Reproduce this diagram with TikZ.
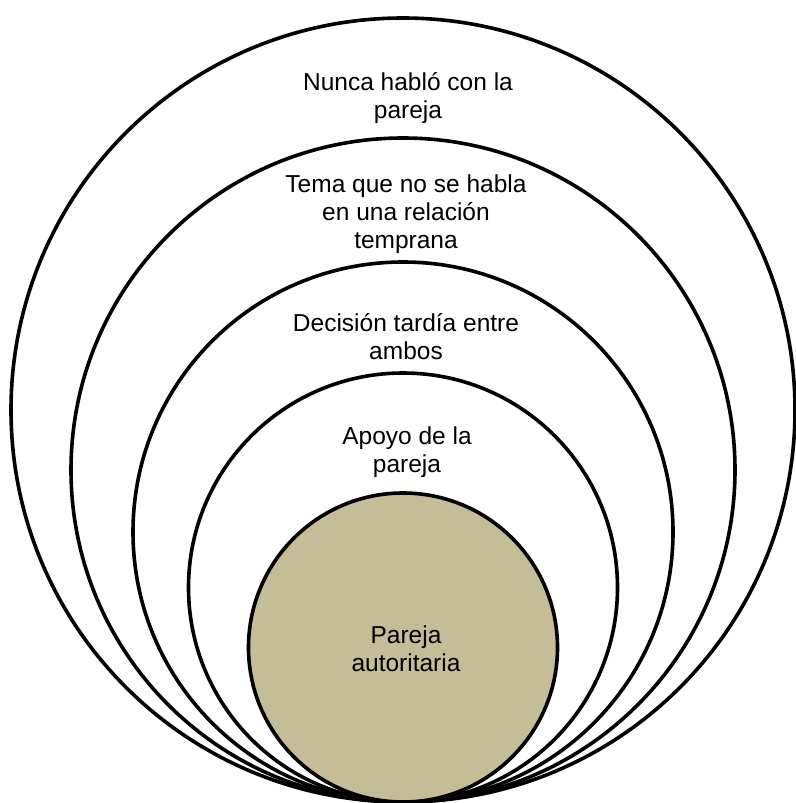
\documentclass[tikz,border=0pt]{standalone}
\usepackage{fontspec}
\setmainfont{Liberation Sans}
\definecolor{tanfill}{HTML}{C4BD97}
\begin{document}
\begin{tikzpicture}[x=1pt,y=-1pt,
  ring/.style={circle, draw=black, line width=3.6pt, inner sep=0pt, fill=white},
  core/.style={ring, fill=tanfill},
  lbl/.style={align=center, font=\fontsize{24.5}{28}\selectfont, inner sep=0pt}]
\useasboundingbox (0,0) rectangle (795,803);
\node[ring, minimum size=784pt] (c1) at (403,410) {};
\node[ring, minimum size=664pt] (c2) at (403,470) {};
\node[ring, minimum size=540pt] (c3) at (403,532) {};
\node[ring, minimum size=429pt] (c4) at (403,587.5) {};
\node[core, minimum size=309pt] (c5) at (403,647.5) {};
\node[lbl] (t1) at (408,98) {Nunca habló con la\\pareja};
\node[lbl] (t2) at (406,214) {Tema que no se habla\\en una relación\\temprana};
\node[lbl] (t3) at (406,337) {Decisión tardía entre\\ambos};
\node[lbl] (t4) at (407,452) {Apoyo de la\\pareja};
\node[lbl] (t5) at (406,649) {Pareja\\autoritaria};
\end{tikzpicture}
\end{document}
